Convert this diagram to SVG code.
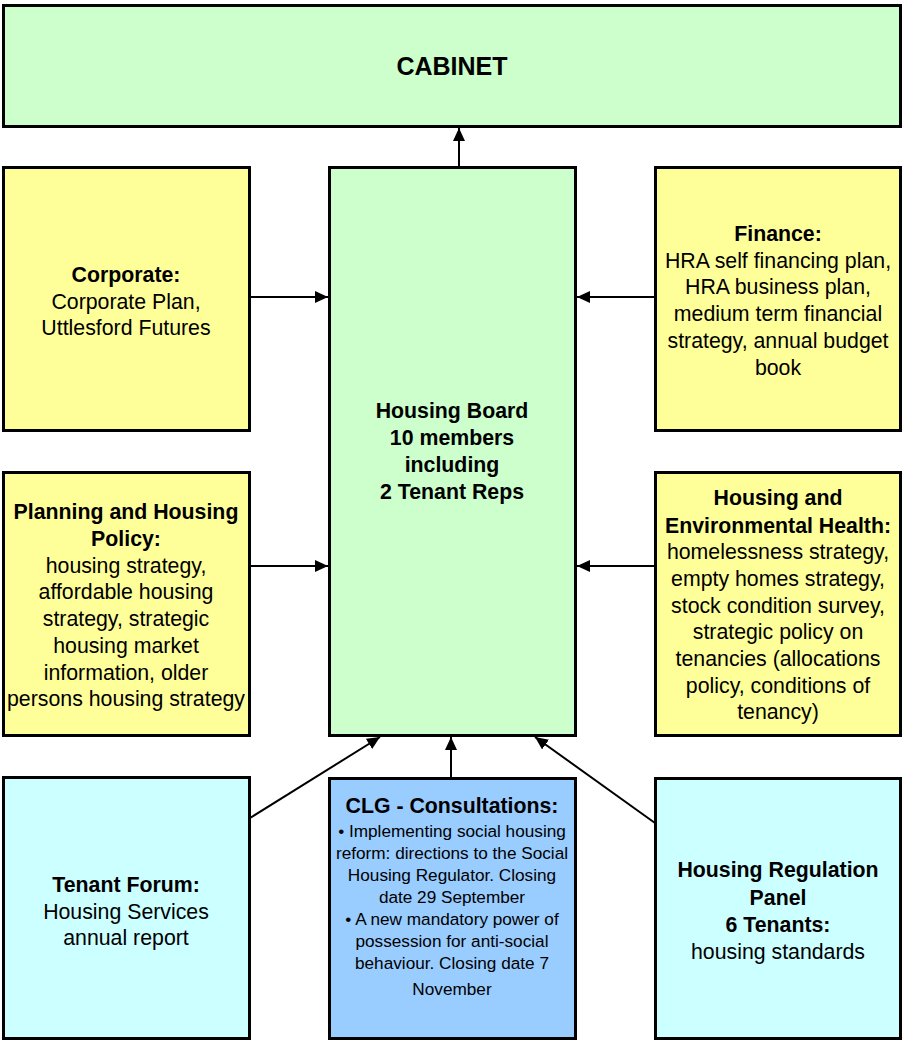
<svg xmlns="http://www.w3.org/2000/svg" width="902" height="1041" viewBox="0 0 902 1041">
<style>
.box{stroke:#000;stroke-width:3}
.g{fill:#CCFFCC}.y{fill:#FFFF99}.c{fill:#CCFFFF}.b{fill:#99CCFF}
text{font-family:"Liberation Sans",Arial,sans-serif;font-size:21.3px;fill:#000;text-anchor:middle}
.bd{font-weight:bold}
.sm{font-size:17.2px}
.conn{stroke:#000;stroke-width:2;fill:none;marker-end:url(#ah)}
</style>
<defs>
<marker id="ah" markerUnits="userSpaceOnUse" markerWidth="14" markerHeight="12" refX="13" refY="6" orient="auto">
<path d="M0,0 L13,6 L0,12 Z" fill="#000"/>
</marker>
</defs>
<rect width="902" height="1041" fill="#fff"/>
<g id="cabinet">
<rect class="box g" x="3.5" y="5.5" width="897" height="121"/>
<text class="bd" x="452" y="75" style="font-size:25px">CABINET</text>
</g>
<g id="corporate">
<rect class="box y" x="3.5" y="167.5" width="246" height="263"/>
<text x="126" y="282"><tspan class="bd">Corporate:</tspan><tspan x="126" dy="26.5">Corporate Plan,</tspan><tspan x="126" dy="26.5">Uttlesford Futures</tspan></text>
</g>
<g id="housing-board">
<rect class="box g" x="329.5" y="167.5" width="246" height="568"/>
<text class="bd" x="452" y="418">Housing Board<tspan x="452" dy="27">10 members</tspan><tspan x="452" dy="27">including</tspan><tspan x="452" dy="27">2 Tenant Reps</tspan></text>
</g>
<g id="finance">
<rect class="box y" x="655.5" y="167.5" width="245" height="263"/>
<text x="778" y="241"><tspan class="bd">Finance:</tspan><tspan x="778" dy="26.7">HRA self financing plan,</tspan><tspan x="778" dy="26.7">HRA business plan,</tspan><tspan x="778" dy="26.7">medium term financial</tspan><tspan x="778" dy="26.7">strategy, annual budget</tspan><tspan x="778" dy="26.7">book</tspan></text>
</g>
<g id="planning">
<rect class="box y" x="3.5" y="472.5" width="246" height="263"/>
<text x="126" y="519"><tspan class="bd">Planning and Housing</tspan><tspan class="bd" x="126" dy="27">Policy:</tspan><tspan x="126" dy="26.7">housing strategy,</tspan><tspan x="126" dy="26.7">affordable housing</tspan><tspan x="126" dy="26.7">strategy, strategic</tspan><tspan x="126" dy="26.7">housing market</tspan><tspan x="126" dy="26.7">information, older</tspan><tspan x="126" dy="26.7">persons housing strategy</tspan></text>
</g>
<g id="housing-env">
<rect class="box y" x="655.5" y="472.5" width="245" height="263"/>
<text x="778" y="505"><tspan class="bd">Housing and</tspan><tspan class="bd" x="778" dy="27.5">Environmental Health:</tspan><tspan x="778" dy="26.7">homelessness strategy,</tspan><tspan x="778" dy="26.7">empty homes strategy,</tspan><tspan x="778" dy="26.7">stock condition survey,</tspan><tspan x="778" dy="26.7">strategic policy on</tspan><tspan x="778" dy="26.7">tenancies (allocations</tspan><tspan x="778" dy="26.7">policy, conditions of</tspan><tspan x="778" dy="26.7">tenancy)</tspan></text>
</g>
<g id="tenant-forum">
<rect class="box c" x="3.5" y="777.5" width="246" height="261"/>
<text x="126" y="892"><tspan class="bd">Tenant Forum:</tspan><tspan x="126" dy="26.5">Housing Services</tspan><tspan x="126" dy="26.5">annual report</tspan></text>
</g>
<g id="clg">
<rect class="box b" x="329.5" y="778.5" width="246" height="260"/>
<text class="bd" x="452" y="813">CLG - Consultations:</text>
<text class="sm" x="452" y="837">• Implementing social housing<tspan x="452" dy="22">reform: directions to the Social</tspan><tspan x="452" dy="22">Housing Regulator. Closing</tspan><tspan x="452" dy="22">date 29 September</tspan><tspan x="452" dy="22">• A new mandatory power of</tspan><tspan x="452" dy="22">possession for anti-social</tspan><tspan x="452" dy="22">behaviour. Closing date 7</tspan><tspan x="452" dy="26">November</tspan></text>
</g>
<g id="regulation-panel">
<rect class="box c" x="655.5" y="778.5" width="245" height="260"/>
<text x="778" y="877"><tspan class="bd">Housing Regulation</tspan><tspan class="bd" x="778" dy="27.5">Panel</tspan><tspan class="bd" x="778" dy="27.5">6 Tenants:</tspan><tspan x="778" dy="26.5">housing standards</tspan></text>
</g>
<g id="connectors">
<line class="conn" x1="459" y1="166" x2="459" y2="128"/>
<line class="conn" x1="251" y1="297" x2="328" y2="297"/>
<line class="conn" x1="655" y1="297" x2="577" y2="297"/>
<line class="conn" x1="251" y1="566" x2="328" y2="566"/>
<line class="conn" x1="655" y1="566" x2="577" y2="566"/>
<line class="conn" x1="250" y1="818" x2="380" y2="737"/>
<line class="conn" x1="451" y1="777" x2="451" y2="737"/>
<line class="conn" x1="655" y1="823" x2="535" y2="737"/>
</g>
</svg>
